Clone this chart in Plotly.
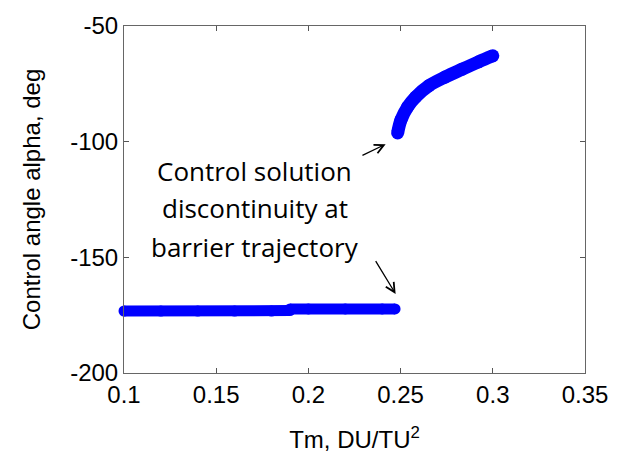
import plotly.graph_objects as go

# Flat (lower) branch
flat1_x = [0.100, 0.120, 0.140, 0.160, 0.180, 0.190]
flat1_y = [-173.2, -173.2, -173.2, -173.2, -173.2, -173.0]
flat2_x = [0.190, 0.200, 0.220, 0.240, 0.247]
flat2_y = [-172.3, -172.3, -172.3, -172.3, -172.3]

# Upper branch
curve_x = [0.2484, 0.2502, 0.2538, 0.2582, 0.2654, 0.2743, 0.2833, 0.2923, 0.3000]
curve_y = [-96.2, -90.6, -85.0, -80.7, -75.8, -72.0, -68.7, -65.5, -62.9]

x_ticks = [0.1, 0.15, 0.2, 0.25, 0.3, 0.35]
x_tick_labels = ["0.1", "0.15", "0.2", "0.25", "0.3", "0.35"]
y_ticks = [-200, -150, -100, -50]
y_tick_labels = ["-200", "-150", "-100", "-50"]

note_lines = ["Control solution", "discontinuity at", "barrier trajectory"]
note_y = [-112.5, -128.8, -145.5]
note_x = 0.171

BLUE = "#0000FF"
AXFONT = dict(family="Liberation Sans, Arial, sans-serif", size=24, color="black")
NOTEFONT = dict(family="Open Sans, Lato, sans-serif", size=26, color="black")

fig = go.Figure()
for xs, ys, w, shp in [(flat1_x, flat1_y, 11, "linear"),
                       (flat2_x, flat2_y, 11, "linear"),
                       (curve_x, curve_y, 13, "spline")]:
    fig.add_trace(go.Scatter(
        x=xs, y=ys, mode="lines+markers", cliponaxis=False,
        line=dict(color=BLUE, width=w, shape=shp),
        marker=dict(color=BLUE, size=w, line=dict(width=0)),
        showlegend=False, hoverinfo="skip"))

for txt, yy in zip(note_lines, note_y):
    fig.add_annotation(x=note_x, y=yy, xref="x", yref="y", text=txt,
                       showarrow=False, font=NOTEFONT)

# arrows
fig.add_annotation(x=0.2419, y=-101.1, ax=0.2285, ay=-106.2,
                   xref="x", yref="y", axref="x", ayref="y",
                   text="", showarrow=True, arrowhead=5, arrowsize=1.4,
                   arrowwidth=1.3, arrowcolor="black")
fig.add_annotation(x=0.2473, y=-165.8, ax=0.2360, ay=-151.0,
                   xref="x", yref="y", axref="x", ayref="y",
                   text="", showarrow=True, arrowhead=5, arrowsize=1.4,
                   arrowwidth=1.3, arrowcolor="black")

fig.update_xaxes(
    range=[0.1, 0.35], tickvals=x_ticks, ticktext=x_tick_labels,
    ticks="inside", ticklen=5, tickcolor="#555555", mirror="ticks",
    showline=True, linecolor="#666666", linewidth=1, showgrid=False, zeroline=False,
    tickfont=AXFONT,
    title=dict(text="Tm, DU/TU<sup>2</sup>", font=AXFONT, standoff=24))
fig.update_yaxes(
    range=[-200, -50], tickvals=y_ticks, ticktext=y_tick_labels,
    ticks="inside", ticklen=5, tickcolor="#555555", mirror="ticks",
    showline=True, linecolor="#666666", linewidth=1, showgrid=False, zeroline=False,
    tickfont=AXFONT,
    title=dict(text="Control angle alpha, deg", font=AXFONT, standoff=22))

fig.update_layout(
    width=620, height=461,
    margin=dict(l=124, r=31, t=19, b=87),
    paper_bgcolor="white", plot_bgcolor="white")

fig.write_html("out.html")
